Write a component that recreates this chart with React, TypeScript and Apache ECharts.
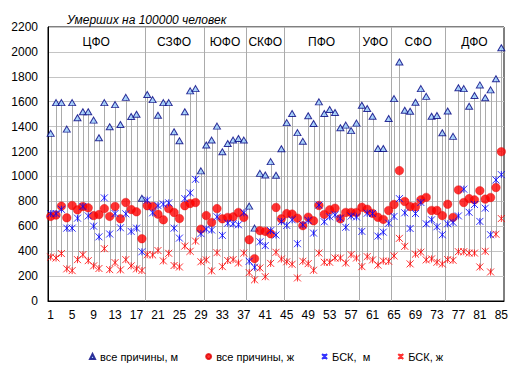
import React, { useEffect, useRef } from "react";
import * as echarts from "echarts";

// Region numbers 1..85 (category labels)
const categories: string[] = Array.from({ length: 85 }, (_, i) => String(i + 1));

// All causes, men (per 100 000)
const allMale = [
  1346, 1593, 1593, 1380, 1593, 1471, 1519, 1519, 1452, 1311,
  1593, 1399, 1577, 1417, 1635, 1481, 1500, 825, 1658, 1617,
  1492, 1593, 1593, 1359, 1287, 1519, 1687, 1705, 1045, 1252,
  1292, 1404, 1199, 1265, 1292, 1305, 1292, 762, 585, 1025,
  1012, 1119, 1010, 1222, 1432, 1505, 1352, 1282, 1488, 1425,
  1599, 1505, 1537, 1513, 1391, 1412, 1368, 1428, 1572, 1545,
  1484, 1225, 1225, 1465, 1625, 1919, 1532, 1524, 1596, 1705,
  1643, 1484, 1490, 1351, 1525, 1322, 1712, 1705, 1564, 1650,
  1735, 1632, 1695, 1785, 2033,
];

// All causes, women
const allFemale = [
  679, 690, 762, 668, 767, 732, 759, 748, 686, 694,
  742, 679, 759, 660, 791, 735, 716, 500, 765, 759,
  697, 652, 742, 711, 662, 765, 783, 791, 577, 686,
  631, 742, 660, 671, 676, 711, 671, 492, 340, 565,
  559, 540, 751, 660, 702, 698, 665, 605, 673, 644,
  767, 695, 732, 745, 660, 711, 711, 711, 753, 737,
  703, 672, 655, 727, 775, 1047, 799, 759, 756, 812,
  832, 727, 727, 686, 777, 671, 892, 791, 822, 812,
  886, 818, 831, 911, 1199,
];

// Circulatory diseases (БСК), men
const cvdMale = [
  702, 702, 736, 585, 585, 665, 759, 683, 601, 515,
  828, 538, 702, 588, 700, 559, 585, 395, 810, 708,
  766, 778, 788, 585, 505, 822, 868, 977, 541, 578,
  570, 676, 527, 625, 620, 612, 708, 319, 271, 475,
  445, 565, 530, 638, 607, 652, 460, 612, 647, 545,
  770, 636, 676, 692, 665, 592, 682, 675, 559, 705,
  703, 521, 553, 625, 679, 822, 708, 582, 702, 791,
  620, 652, 596, 532, 620, 631, 683, 898, 712, 775,
  639, 745, 532, 972, 1015,
];

// Circulatory diseases (БСК), women
const cvdFemale = [
  353, 345, 381, 258, 244, 332, 372, 324, 282, 261,
  420, 252, 308, 250, 332, 282, 258, 245, 372, 370,
  405, 322, 383, 285, 273, 441, 399, 481, 315, 330,
  242, 388, 276, 325, 332, 305, 385, 228, 170, 265,
  195, 302, 391, 337, 315, 295, 185, 319, 300, 247,
  385, 311, 311, 345, 345, 305, 372, 345, 276, 356,
  330, 288, 321, 319, 362, 503, 439, 298, 376, 392,
  330, 338, 311, 297, 332, 327, 396, 396, 385, 385,
  273, 399, 233, 536, 662,
];

// Federal districts and the number of regions in each
const districts = ["ЦФО", "СЗФО", "ЮФО", "СКФО", "ПФО", "УФО", "СФО", "ДФО"];
const districtSizes = [18, 11, 8, 7, 14, 6, 10, 11];

const seriesNames = ["все причины, м", "все причины, ж", "БСК,  м", "БСК, ж"];

const FONT = "'Liberation Sans', Arial, sans-serif";
const STAR = "path://M0 0L10 10M0 10L10 0M5 0L5 10";

export default function App() {
  const ref = useRef<HTMLDivElement>(null);

  useEffect(() => {
    if (!ref.current) return;
    const chart = echarts.init(ref.current, undefined, { renderer: "svg" });

    const hiLo = categories.map((c, i) => {
      const vals = [allMale[i], allFemale[i], cvdMale[i], cvdFemale[i]];
      return [i, Math.max(...vals), Math.min(...vals)];
    });

    const bounds: number[] = [];
    const centers: number[][] = [];
    let acc = 0;
    districtSizes.forEach((n, k) => {
      centers.push([acc + n / 2, k]);
      acc += n;
      if (k < districtSizes.length - 1) bounds.push(acc);
    });

    const option: any = {
      animation: false,
      backgroundColor: "#ffffff",
      title: {
        text: "Умерших на 100000 человек",
        left: 62,
        top: 9,
        textStyle: {
          fontFamily: FONT,
          fontSize: 12,
          fontStyle: "italic",
          fontWeight: "normal",
          color: "#000",
        },
      },
      grid: {
        left: 48,
        right: 15,
        top: 27,
        bottom: 69,
        show: true,
        borderColor: "#000",
        borderWidth: 1,
        backgroundColor: "#fff",
      },
      legend: {
        data: seriesNames,
        left: 84,
        top: 346,
        itemWidth: 5,
        itemHeight: 5,
        itemGap: 27,
        textStyle: { fontFamily: FONT, fontSize: 11, color: "#000" },
      },
      xAxis: [
        {
          type: "category",
          data: categories,
          boundaryGap: true,
          axisLine: { lineStyle: { color: "#000", width: 1 } },
          axisTick: { show: false },
          axisLabel: {
            interval: 3,
            margin: 8,
            fontFamily: FONT,
            fontSize: 12,
            color: "#000",
          },
          splitLine: { show: false },
        },
        {
          type: "value",
          min: 0,
          max: 85,
          show: false,
          splitLine: { show: false },
        },
      ],
      yAxis: {
        type: "value",
        min: 0,
        max: 2200,
        interval: 200,
        axisLine: { show: true, lineStyle: { color: "#000" } },
        axisTick: { show: false },
        axisLabel: {
          margin: 10,
          fontFamily: FONT,
          fontSize: 12,
          color: "#000",
          formatter: (v: number) => String(v),
        },
        splitLine: { lineStyle: { color: "#C4C4C4", width: 1 } },
      },
      series: [
        {
          type: "custom",
          name: "hl",
          silent: true,
          z: 1,
          data: hiLo,
          encode: { x: 0, y: [1, 2] },
          renderItem: (params: any, api: any) => {
            const p1 = api.coord([api.value(0), api.value(1)]);
            const p2 = api.coord([api.value(0), api.value(2)]);
            const x = Math.round(p1[0]) + 0.5;
            return {
              type: "line",
              shape: { x1: x, y1: p1[1], x2: x, y2: p2[1] },
              style: { stroke: "#ABABAB", lineWidth: 1 },
            };
          },
        },
        {
          type: "custom",
          name: "sep",
          silent: true,
          xAxisIndex: 1,
          z: 1,
          data: bounds.map((b) => [b]),
          renderItem: (params: any, api: any) => {
            const p1 = api.coord([api.value(0), 0]);
            const p2 = api.coord([api.value(0), 2200]);
            const x = Math.round(p1[0]) + 0.5;
            return {
              type: "line",
              shape: { x1: x, y1: p1[1], x2: x, y2: p2[1] },
              style: { stroke: "#ABABAB", lineWidth: 1 },
            };
          },
        },
        {
          type: "custom",
          name: "districts",
          silent: true,
          xAxisIndex: 1,
          z: 3,
          data: centers,
          renderItem: (params: any, api: any) => {
            const p = api.coord([api.value(0), 2200]);
            return {
              type: "text",
              x: p[0],
              y: p[1] + 15,
              style: {
                text: districts[api.value(1)],
                fill: "#000",
                fontFamily: FONT,
                fontSize: 12,
                align: "center",
                verticalAlign: "middle",
              },
            };
          },
        },
        {
          type: "scatter",
          name: seriesNames[0],
          data: allMale,
          symbol: "triangle",
          symbolSize: [7, 6],
          z: 5,
          itemStyle: { color: "#99CCFF", borderColor: "#000080", borderWidth: 1 },
        },
        {
          type: "scatter",
          name: seriesNames[1],
          data: allFemale,
          symbol: "circle",
          symbolSize: 8.5,
          z: 5,
          itemStyle: { color: "#FF0000", borderColor: "#E00000", borderWidth: 0.5 },
        },
        {
          type: "scatter",
          name: seriesNames[2],
          data: cvdMale,
          symbol: STAR,
          symbolSize: 7,
          z: 6,
          itemStyle: { color: "rgba(0,0,0,0)", borderColor: "#0000FF", borderWidth: 1 },
        },
        {
          type: "scatter",
          name: seriesNames[3],
          data: cvdFemale,
          symbol: STAR,
          symbolSize: 7,
          z: 6,
          itemStyle: { color: "rgba(0,0,0,0)", borderColor: "#FF0000", borderWidth: 1 },
        },
      ],
    };

    chart.setOption(option);
    return () => chart.dispose();
  }, []);

  return (
    <div
      ref={ref}
      style={{ position: "fixed", left: 0, top: 0, width: 519, height: 370 }}
    />
  );
}
